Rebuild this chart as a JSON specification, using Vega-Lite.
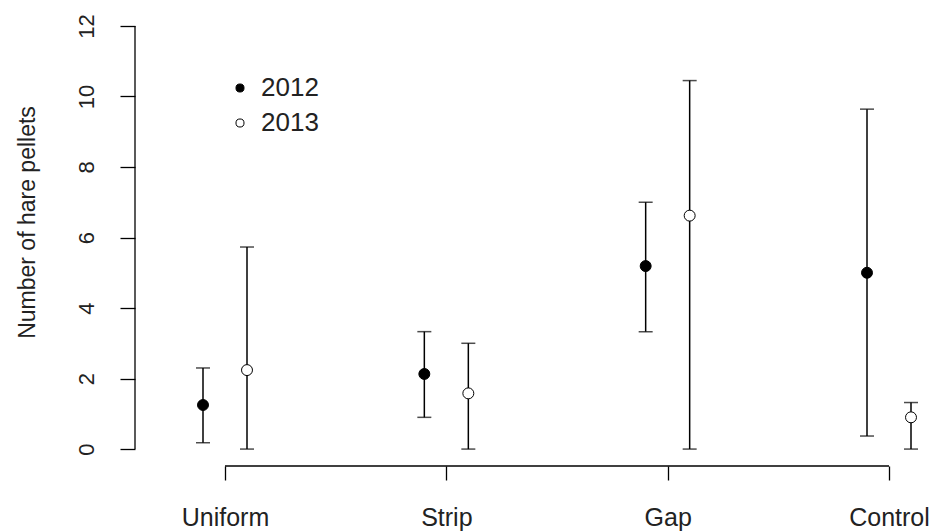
{
  "$schema": "https://vega.github.io/schema/vega-lite/v6.json",
  "autosize": {"type": "none"},
  "width": 803,
  "height": 457,
  "padding": {"left": 135, "top": 9, "right": 0, "bottom": 66},
  "background": "white",
  "config": {
    "view": {"stroke": null},
    "font": "Liberation Sans",
    "axis": {"grid": false, "domain": false, "tickColor": "black", "tickWidth": 1.3, "labelColor": "#222", "labelFont": "Liberation Sans", "titleFont": "Liberation Sans", "titleColor": "#222", "titleFontWeight": "normal"}
  },
  "data": {
    "values": [
      {"treatment": "Uniform", "year": "2012", "mean": 1.25, "lo": 0.18, "hi": 2.3},
      {"treatment": "Uniform", "year": "2013", "mean": 2.24, "lo": 0.0, "hi": 5.73},
      {"treatment": "Strip", "year": "2012", "mean": 2.13, "lo": 0.9, "hi": 3.33},
      {"treatment": "Strip", "year": "2013", "mean": 1.58, "lo": 0.0, "hi": 3.0},
      {"treatment": "Gap", "year": "2012", "mean": 5.19, "lo": 3.33, "hi": 7.0},
      {"treatment": "Gap", "year": "2013", "mean": 6.62, "lo": 0.0, "hi": 10.45},
      {"treatment": "Control", "year": "2012", "mean": 5.0, "lo": 0.37, "hi": 9.64},
      {"treatment": "Control", "year": "2013", "mean": 0.9, "lo": 0.0, "hi": 1.32}
    ]
  },
  "encoding": {
    "x": {
      "field": "treatment", "type": "nominal",
      "scale": {"type": "point", "domain": ["Uniform", "Strip", "Gap", "Control"], "range": [90, 754], "padding": 0},
      "axis": {"title": null, "orient": "bottom", "tickSize": 14, "labelFontSize": 25, "labelPadding": 25, "labelAngle": 0}
    },
    "xOffset": {"field": "year", "type": "nominal", "scale": {"type": "point", "range": [-22, 22], "padding": 0}}
  },
  "layer": [
    {
      "mark": {"type": "rule", "color": "black", "strokeWidth": 1.5},
      "encoding": {
        "y": {"field": "lo", "type": "quantitative", "scale": {"domain": [-0.48, 12.48], "nice": false, "zero": false},
          "axis": {"orient": "left", "values": [0, 2, 4, 6, 8, 10, 12], "tickSize": 15, "labelAngle": -90, "labelAlign": "center", "labelBaseline": "middle", "labelFontSize": 22, "labelPadding": 34,
            "title": "Number of hare pellets", "titleFontSize": 23, "titleAngle": -90, "titleX": -108, "titleY": 213, "titleAlign": "center", "titleBaseline": "middle"}},
        "y2": {"field": "hi"}
      }
    },
    {
      "mark": {"type": "tick", "orient": "horizontal", "color": "black", "size": 14, "thickness": 1.5},
      "encoding": {"y": {"field": "lo", "type": "quantitative"}}
    },
    {
      "mark": {"type": "tick", "orient": "horizontal", "color": "black", "size": 14, "thickness": 1.5},
      "encoding": {"y": {"field": "hi", "type": "quantitative"}}
    },
    {
      "mark": {"type": "point", "shape": "circle", "filled": true, "stroke": "black", "strokeWidth": 1, "opacity": 1, "size": 120},
      "encoding": {
        "y": {"field": "mean", "type": "quantitative"},
        "fill": {"field": "year", "type": "nominal", "scale": {"domain": ["2012", "2013"], "range": ["black", "white"]},
          "legend": {"title": null, "orient": "none", "legendX": 92, "legendY": 66, "symbolType": "circle", "symbolSize": 65, "symbolStrokeColor": "black", "symbolStrokeWidth": 1, "labelFontSize": 26, "labelColor": "#222", "labelFont": "Liberation Sans", "rowPadding": 9, "labelOffset": 8}}
      }
    },
    {
      "data": {"values": [{"a": 0, "b": 12}]},
      "mark": {"type": "rule", "color": "black", "strokeWidth": 1.3},
      "encoding": {"y": {"field": "a", "type": "quantitative"}, "y2": {"field": "b"}, "x": {"value": 0}, "xOffset": null}
    },
    {
      "data": {"values": [{"a": "Uniform", "b": "Control"}]},
      "mark": {"type": "rule", "color": "black", "strokeWidth": 1.3},
      "encoding": {"x": {"field": "a", "type": "nominal"}, "x2": {"field": "b"}, "y": {"datum": -0.48}, "xOffset": null}
    }
  ]
}
